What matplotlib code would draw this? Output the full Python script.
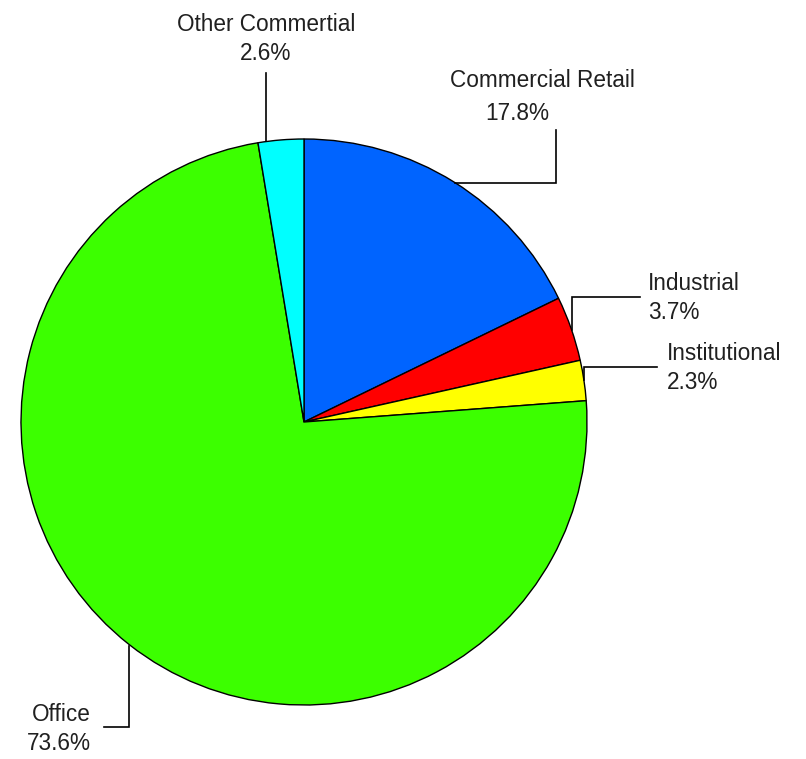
import numpy as np
import matplotlib.pyplot as plt

labels = ["Commercial Retail", "Industrial", "Institutional", "Office", "Other Commertial"]
shares = [17.8, 3.7, 2.3, 73.6, 2.6]
colors = ["#0064FF", "#FF0000", "#FFFF00", "#3CFF00", "#00FFFF"]

W, H = 806, 759
CX, CY, R = 304, 422, 283   # pie centre / radius in pixels (y from top)

fig = plt.figure(figsize=(W / 100, H / 100), dpi=100)
ax = fig.add_axes([0, 0, 1, 1])

ax.pie(shares, colors=colors, startangle=90, counterclock=False,
       center=(CX, H - CY), radius=R, frame=True,
       wedgeprops=dict(edgecolor="black", linewidth=1.0))

# label layout: (line path in px from top, text x, text y, ha)
layout = {
    "Commercial Retail": ([(455, 183), (556, 183), (556, 130)], 542, 97, "center"),
    "Industrial": ([(572, 330), (572, 297), (640, 297)], 648, 298, "left"),
    "Institutional": ([(584, 380), (584, 367), (657, 367)], 667, 368, "left"),
    "Office": ([(129, 646), (129, 727), (104, 727)], 91, 729, "right"),
    "Other Commertial": ([(266, 141), (266, 73)], 266, 39, "center"),
}

fs = 16.3
fam = ["Liberation Sans", "DejaVu Sans"]
for lab, val in zip(labels, shares):
    pts, tx, ty, ha = layout[lab]
    xs = [p[0] for p in pts]
    ys = [H - p[1] for p in pts]
    ax.plot(xs, ys, color="black", lw=1.2, solid_joinstyle="miter")
    if lab == "Commercial Retail":
        ax.text(tx, H - ty + 16.5, lab, ha="center", va="center", fontsize=fs, family=fam, color="#202020")
        ax.text(517, H - ty - 16.5, f"{val}%", ha="center", va="center", fontsize=fs, family=fam, color="#202020")
    else:
        ax.text(tx, H - ty, f"{lab}\n{val}%", ha=ha, va="center", fontsize=fs, color="#202020",
                family=fam, linespacing=1.35, multialignment=ha)

ax.set_xlim(0, W)
ax.set_ylim(0, H)
ax.set_aspect("equal")
ax.axis("off")

fig.savefig("out.png", dpi=100, facecolor="white")
